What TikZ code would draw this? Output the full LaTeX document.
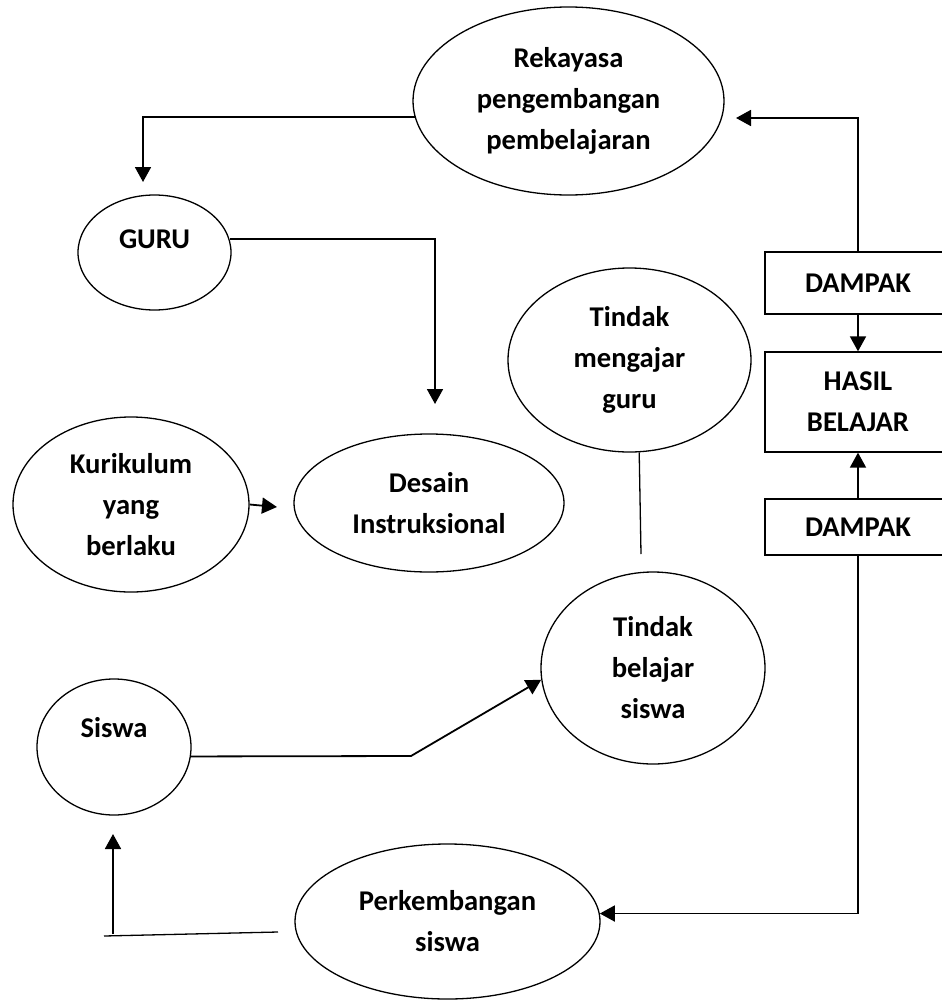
\documentclass[tikz,border=0pt]{standalone}
\usepackage{fontspec}
\setmainfont{Carlito}
\usetikzlibrary{shapes.geometric,arrows.meta}

\begin{document}
\begin{tikzpicture}[x=1pt,y=-1pt,
  oval/.style={ellipse,draw,line width=1.3pt,inner sep=0pt,align=center,font=\bfseries\fontsize{28.6}{41}\selectfont},
  kotak/.style={rectangle,draw,line width=1.3pt,minimum width=186pt,align=center,font=\bfseries\fontsize{28.6}{41}\selectfont},
  arr/.style={-{Triangle[length=15pt,width=16pt]},line width=1.8pt},
  garis/.style={line width=1.3pt}]

\useasboundingbox (0,0) rectangle (942,1001);

\node[oval,minimum width=311pt,minimum height=188pt] (rek) at (568.5,101) {Rekayasa\\pengembangan\\pembelajaran};
\node[oval,minimum width=153pt,minimum height=115pt] (guru) at (154.5,252.5) {GURU\\[-14.6pt]\mbox{}};
\node[oval,minimum width=236pt,minimum height=175pt] (kur) at (131,504.5) {Kurikulum\\yang\\berlaku};
\node[oval,minimum width=270pt,minimum height=138pt] (desain) at (429,503) {Desain\\Instruksional};
\node[oval,minimum width=243pt,minimum height=184pt] (ajar) at (629.5,360) {Tindak\\mengajar\\guru};
\node[oval,minimum width=224pt,minimum height=192pt] (belajar) at (653,668) {Tindak\\belajar\\siswa};
\node[oval,minimum width=154pt,minimum height=136pt] (siswa) at (114,747) {Siswa\\[-1pt]\mbox{}};
\node[oval,minimum width=305pt,minimum height=155pt] (kembang) at (447.5,921.5) {Perkembangan\\siswa};

\node[kotak,minimum height=62pt] (dampak1) at (858,283) {DAMPAK};
\node[kotak,minimum height=100pt] (hasil) at (858,402) {HASIL\\BELAJAR};
\node[kotak,minimum height=56pt] (dampak2) at (858,527) {DAMPAK};

\coordinate (guru-in) at (143,182);
\coordinate (desain-in) at (435,404);
\coordinate (desain-w) at (277,507);
\coordinate (belajar-n) at (641,554);
\coordinate (tekuk) at (411,756);
\coordinate (rek-in) at (736,118);
\coordinate (kembang-w) at (278,932);
\coordinate (sudut) at (104,936);
\coordinate (naik) at (113,934);
\coordinate (siswa-in) at (113,834);

\draw[arr] (rek.186) -| (guru-in);
\draw[arr] (guru.10) -| (desain-in);
\draw[arr] (kur.east) -- (desain-w);
\draw[garis] (ajar.-84) -- (belajar-n);
\draw[arr] (siswa.-7) -- (tekuk) -- (belajar.186);
\draw[arr] (dampak1.north) |- (rek-in);
\draw[arr] (dampak1.south) -- (hasil.north);
\draw[arr] (dampak2.north) -- (hasil.south);
\draw[arr] (dampak2.south) |- (kembang.3);
\draw[garis] (kembang-w) -- (sudut);
\draw[arr] (naik) -- (siswa-in);
\end{tikzpicture}
\end{document}
